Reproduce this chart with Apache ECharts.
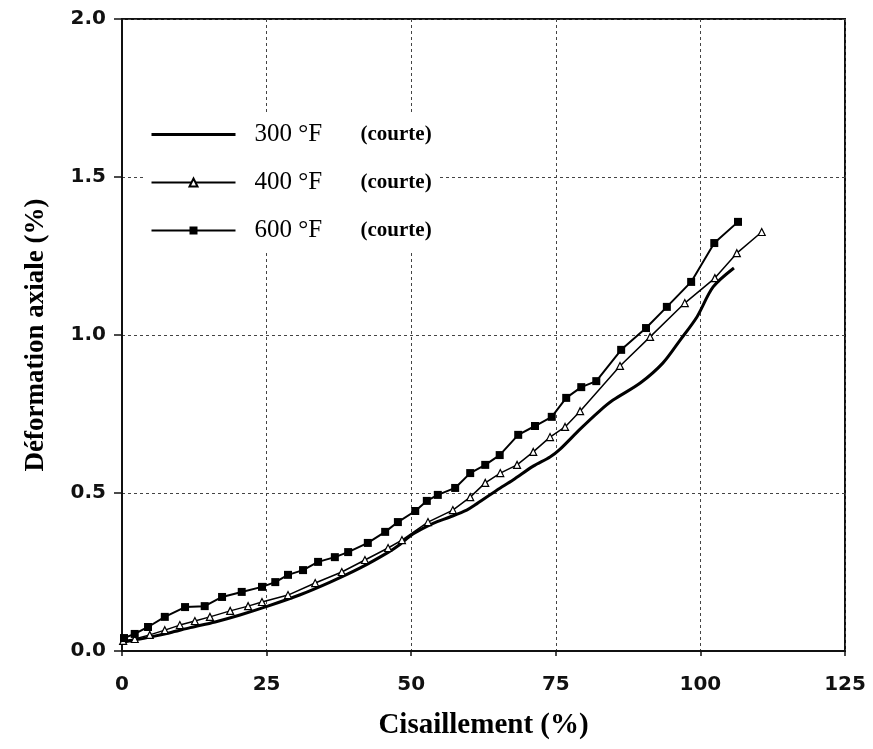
<!DOCTYPE html>
<html>
<head>
<meta charset="utf-8">
<script src="https://cdn.jsdelivr.net/npm/echarts@6/dist/echarts.min.js"></script>
<style>
html,body{margin:0;padding:0;background:#fff;}
#c{width:873px;height:749px;}
</style>
</head>
<body>
<div id="c"></div>
<script>
// Data
var xTicks = [0, 25, 50, 75, 100, 125];
var yTicks = [0.0, 0.5, 1.0, 1.5, 2.0];

var s300x = [0, 2.2, 4.8, 8.3, 11.8, 16.1, 20.4, 25.2, 30.8, 36.0, 41.1, 46.0, 48.1, 50.3, 53.8, 56.7, 59.6, 61.0, 64.8, 67.6, 71.1, 74.0, 75.7, 79.2, 82.6, 84.9, 89.6, 93.5, 96.5, 99.4, 102.2, 105.8];
var s300y = [0.028, 0.035, 0.044, 0.058, 0.074, 0.092, 0.114, 0.142, 0.178, 0.218, 0.262, 0.312, 0.338, 0.370, 0.404, 0.424, 0.446, 0.462, 0.509, 0.541, 0.585, 0.614, 0.638, 0.702, 0.760, 0.794, 0.848, 0.911, 0.984, 1.057, 1.152, 1.212];

var s400x = [0.2, 2.2, 4.8, 7.4, 10.0, 12.6, 15.2, 18.7, 21.8, 24.2, 28.7, 33.4, 38.0, 42.0, 46.0, 48.4, 52.9, 57.2, 60.2, 62.8, 65.4, 68.3, 71.1, 74.0, 76.6, 79.2, 86.1, 91.3, 97.3, 102.5, 106.3, 110.6];
var s400y = [0.032, 0.038, 0.051, 0.066, 0.082, 0.095, 0.108, 0.127, 0.142, 0.155, 0.177, 0.215, 0.250, 0.288, 0.326, 0.351, 0.408, 0.446, 0.487, 0.532, 0.563, 0.589, 0.630, 0.677, 0.709, 0.759, 0.902, 0.994, 1.101, 1.180, 1.259, 1.326];

var s600x = [0.35, 2.2, 4.5, 7.4, 10.9, 14.3, 17.3, 20.7, 24.2, 26.5, 28.7, 31.3, 33.9, 36.8, 39.1, 42.5, 45.5, 47.7, 50.7, 52.7, 54.6, 57.6, 60.2, 62.8, 65.3, 68.5, 71.4, 74.3, 76.8, 79.4, 82.0, 86.3, 90.6, 94.2, 98.4, 102.4, 106.5];
var s600y = [0.041, 0.054, 0.076, 0.108, 0.139, 0.142, 0.171, 0.187, 0.203, 0.218, 0.241, 0.256, 0.282, 0.297, 0.313, 0.342, 0.377, 0.408, 0.443, 0.475, 0.494, 0.516, 0.563, 0.589, 0.620, 0.684, 0.712, 0.741, 0.801, 0.835, 0.854, 0.953, 1.022, 1.089, 1.168, 1.291, 1.358];

var seriesNames = ['300 °F', '400 °F', '600 °F'];
var seriesNote = '(courte)';

function zip(xs, ys){ return xs.map(function(x,i){ return [x, ys[i]]; }); }

var chart = echarts.init(document.getElementById('c'));
var gridColor = '#444';
chart.setOption({
  backgroundColor: '#fff',
  animation: false,
  grid: {left: 122, right: 28, top: 19, bottom: 98, show: true, borderColor: '#111', borderWidth: 2, backgroundColor: 'transparent'},
  legend: {
    left: 144, top: 114, orient: 'vertical', itemGap: 23, itemWidth: 84, itemHeight: 10,
    backgroundColor: '#fff', padding: [8, 8, 8, 6],
    data: [
      {name: seriesNames[0], itemStyle: {opacity: 0}, lineStyle: {width: 3}},
      {name: seriesNames[1]},
      {name: seriesNames[2]}
    ],
    formatter: function(n){ return '{a|' + n + '}{b|' + seriesNote + '}'; },
    textStyle: {
      color: '#000',
      rich: {
        a: {fontFamily: 'Liberation Serif', fontSize: 25, width: 106, color: '#000', padding: [0,0,0,14], lineHeight: 30},
        b: {fontFamily: 'Liberation Serif', fontSize: 21, fontWeight: 'bold', color: '#000', lineHeight: 30}
      }
    }
  },
  xAxis: {
    type: 'value', min: 0, max: 125, interval: 25,
    name: 'Cisaillement (%)', nameLocation: 'middle', nameGap: 60,
    nameTextStyle: {fontFamily: 'Liberation Serif', fontSize: 29, fontWeight: 'bold', color: '#000'},
    axisLine: {show: true, onZero: false, lineStyle: {color: '#111', width: 2}},
    axisTick: {show: true, inside: false, length: 5, lineStyle: {color: '#111', width: 1.5}},
    axisLabel: {fontFamily: 'DejaVu Sans', fontWeight: 'bold', fontSize: 20, color: '#111', margin: 24,
      formatter: function(v){ return String(v); }},
    splitLine: {show: true, lineStyle: {color: gridColor, width: 1, type: [3, 3]}}
  },
  yAxis: {
    type: 'value', min: 0, max: 2, interval: 0.5,
    name: 'Déformation axiale (%)', nameLocation: 'middle', nameGap: 72,
    nameTextStyle: {fontFamily: 'Liberation Serif', fontSize: 27, fontWeight: 'bold', color: '#000'},
    axisLine: {show: true, onZero: false, lineStyle: {color: '#111', width: 2}},
    axisTick: {show: true, inside: false, length: 8, lineStyle: {color: '#111', width: 1.5}},
    axisLabel: {fontFamily: 'DejaVu Sans', fontWeight: 'bold', fontSize: 20, color: '#111', margin: 16,
      formatter: function(v){ return v.toFixed(1); }},
    splitLine: {show: true, lineStyle: {color: gridColor, width: 1, type: [3, 3]}}
  },
  series: [
    {name: seriesNames[0], type: 'line', data: zip(s300x, s300y), symbol: 'none', smooth: 0.3,
      lineStyle: {color: '#000', width: 3}, itemStyle: {color: '#000'}},
    {name: seriesNames[1], type: 'line', data: zip(s400x, s400y), symbol: 'triangle', symbolSize: 7,
      lineStyle: {color: '#000', width: 1.5}, itemStyle: {color: '#fff', borderColor: '#000', borderWidth: 1.2}},
    {name: seriesNames[2], type: 'line', data: zip(s600x, s600y), symbol: 'rect', symbolSize: 8,
      lineStyle: {color: '#000', width: 2}, itemStyle: {color: '#000'}}
  ]
});
</script>
</body>
</html>
